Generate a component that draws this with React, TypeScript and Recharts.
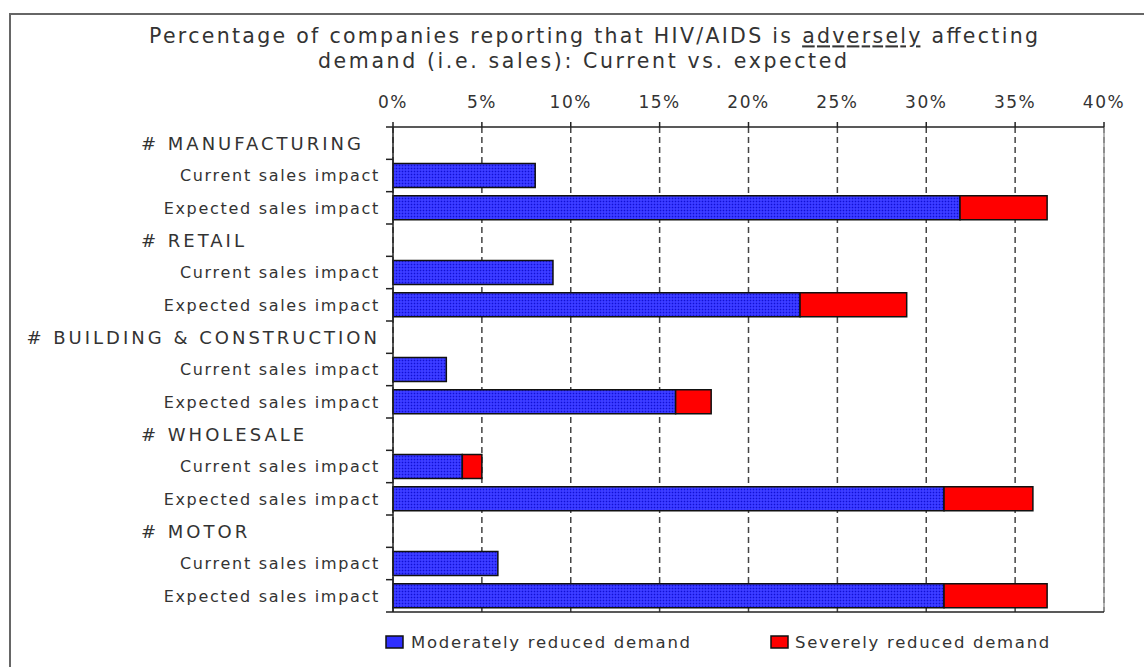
import { BarChart, Bar, XAxis, YAxis, CartesianGrid, ReferenceLine } from "recharts";

const rowLabels = [
  "# MANUFACTURING",
  "Current sales impact",
  "Expected sales impact",
  "# RETAIL",
  "Current sales impact",
  "Expected sales impact",
  "# BUILDING & CONSTRUCTION",
  "Current sales impact",
  "Expected sales impact",
  "# WHOLESALE",
  "Current sales impact",
  "Expected sales impact",
  "# MOTOR",
  "Current sales impact",
  "Expected sales impact",
];

// % of companies
const moderate = [null, 8, 31.9, null, 9, 22.9, null, 3, 15.9, null, 3.9, 31, null, 5.9, 31];
const severe = [null, 0, 4.9, null, 0, 6, null, 0, 2, null, 1.1, 5, null, 0, 5.8];

const pctTicks = [0, 5, 10, 15, 20, 25, 30, 35, 40];

const seriesNames = ["Moderately reduced demand", "Severely reduced demand"];

const data = rowLabels.map((label, i) => ({
  idx: i,
  label,
  moderate: moderate[i],
  severe: severe[i],
}));

const W = 1144;
const H = 667;
const AXIS_X = 393;
const PLOT_TOP = 127;
const PLOT_BOTTOM = 612;
const ROW_H = (PLOT_BOTTOM - PLOT_TOP) / rowLabels.length;
const FONT = "'DejaVu Sans', sans-serif";
const TEXT = "#333";
const BLUE = "#2f2fff";
const RED = "#ff0000";

function CategoryTick(props: any) {
  const { y, payload, index } = props;
  const label: string = rowLabels[payload.value] ?? "";
  const isHeader = label.startsWith("#");
  const leftAligned = isHeader && label.length < 20;
  return (
    <g>
      <line x1={AXIS_X - 7} x2={AXIS_X} y1={y - ROW_H / 2} y2={y - ROW_H / 2} stroke="#222" strokeWidth={1.5} />
      {index === rowLabels.length - 1 && (
        <line x1={AXIS_X - 7} x2={AXIS_X} y1={y + ROW_H / 2} y2={y + ROW_H / 2} stroke="#222" strokeWidth={1.5} />
      )}
      <text
        x={leftAligned ? 141 : 380}
        y={y}
        dy="0.36em"
        textAnchor={leftAligned ? "start" : "end"}
        fill={TEXT}
        fontFamily={FONT}
        fontSize={isHeader ? 18 : 16}
        letterSpacing={isHeader ? 3 : 1.7}
      >
        {label}
      </text>
    </g>
  );
}

function PctTick(props: any) {
  const { x, y, payload } = props;
  return (
    <text x={x} y={y} textAnchor="middle" fill={TEXT} fontFamily={FONT} fontSize={17} letterSpacing={1.5}>
      {`${payload.value}%`}
    </text>
  );
}

function LegendBox() {
  const items = [
    { name: seriesNames[0], fill: BLUE, left: 386, textLeft: 411 },
    { name: seriesNames[1], fill: RED, left: 771, textLeft: 795 },
  ];
  return (
    <svg width={W} height={24} style={{ position: "absolute", left: 0, top: 630 }}>
      {items.map((it) => (
        <g key={it.name}>
          <rect x={it.left} y={6} width={17} height={12} fill={it.fill} stroke="#111" strokeWidth={1.5} />
          <text x={it.textLeft} y={12} dy="0.36em" fill={TEXT} fontFamily={FONT} fontSize={16.5} letterSpacing={1.7}>
            {it.name}
          </text>
        </g>
      ))}
    </svg>
  );
}

export default function App() {
  return (
    <div style={{ position: "absolute", left: 0, top: 0, width: W, height: H, background: "#fff", overflow: "hidden" }}>
      <div
        style={{
          position: "absolute",
          left: 9,
          top: 13,
          width: W,
          height: H,
          borderLeft: "2px solid #666",
          borderTop: "2px solid #666",
        }}
      />
      <svg width={W} height={80} style={{ position: "absolute", left: 0, top: 0 }}>
        <text x={149} y={36} dy="0.36em" textLength={889} lengthAdjust="spacing" fill={TEXT} fontFamily={FONT} fontSize={20.5}>
          Percentage of companies reporting that HIV/AIDS is{" "}
          <tspan textDecoration="underline">adversely</tspan> affecting
        </text>
        <text x={318} y={61} dy="0.36em" textLength={529} lengthAdjust="spacing" fill={TEXT} fontFamily={FONT} fontSize={20.5}>
          demand (i.e. sales): Current vs. expected
        </text>
      </svg>
      <div style={{ position: "absolute", left: 0, top: 0 }}>
        <BarChart
          width={W}
          height={H}
          data={data}
          layout="vertical"
          margin={{ top: PLOT_TOP - 30, right: W - 1104, bottom: H - PLOT_BOTTOM - 10, left: 0 }}
          barCategoryGap="13%"
        >
          <defs>
            <pattern id="dots" width={3} height={3} patternUnits="userSpaceOnUse">
              <rect width={3} height={3} fill={BLUE} />
              <rect x={0} y={0} width={1} height={1} fill="#1515c8" />
              <rect x={1.5} y={1.5} width={1} height={1} fill="#6a6aff" />
            </pattern>
          </defs>
          <CartesianGrid xAxisId="top" horizontal={false} stroke="#444" strokeWidth={1.5} strokeDasharray="6 4" />
          <XAxis
            xAxisId="top"
            type="number"
            orientation="top"
            domain={[0, 40]}
            ticks={pctTicks}
            height={30}
            tickSize={5}
            tickMargin={14}
            tick={<PctTick />}
            stroke="#222"
            strokeWidth={1.5}
          />
          <XAxis
            xAxisId="bottom"
            type="number"
            orientation="bottom"
            domain={[0, 40]}
            ticks={pctTicks}
            height={10}
            tickSize={5}
            tick={() => <g />}
            stroke="#222"
            strokeWidth={1.5}
          />
          <YAxis
            type="category"
            dataKey="idx"
            width={AXIS_X}
            interval={0}
            tickLine={false}
            tick={<CategoryTick />}
            stroke="#222"
            strokeWidth={1.5}
          />
          <ReferenceLine xAxisId="top" x={40} stroke="#999" strokeWidth={1.5} />
          <Bar
            xAxisId="top"
            dataKey="moderate"
            name={seriesNames[0]}
            stackId="a"
            fill="url(#dots)"
            stroke="#111"
            strokeWidth={1.5}
            isAnimationActive={false}
          />
          <Bar
            xAxisId="top"
            dataKey="severe"
            name={seriesNames[1]}
            stackId="a"
            fill={RED}
            stroke="#111"
            strokeWidth={1.5}
            isAnimationActive={false}
          />
        </BarChart>
      </div>
      <LegendBox />
    </div>
  );
}
